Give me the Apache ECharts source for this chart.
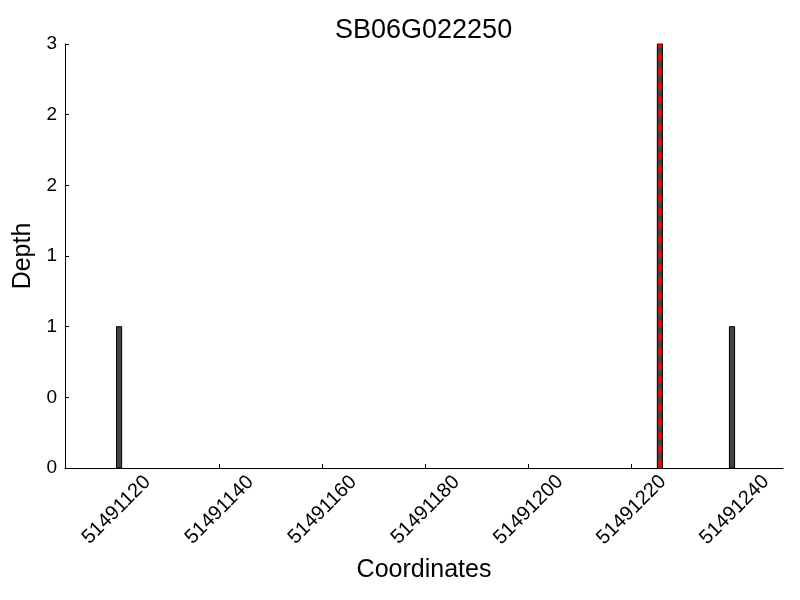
<!DOCTYPE html>
<html><head><meta charset="utf-8">
<script src="https://cdn.jsdelivr.net/npm/echarts@6/dist/echarts.min.js"></script>
<style>html,body{margin:0;padding:0;background:#fff}#c{width:800px;height:600px}</style>
</head><body><div id="c"></div>
<script>
// Data
const positions = [51491120, 51491225, 51491239];
const depths = [1, 3, 1];
const highlightPos = 51491225.5;
const xTickValues = [51491120, 51491140, 51491160, 51491180, 51491200, 51491220, 51491240];
const yTickValues = [0, 0.5, 1, 1.5, 2, 2.5, 3];
const yTickLabels = ['0', '0', '1', '1', '2', '2', '3'];
const titleText = 'SB06G022250';

const FONT = 'Liberation Sans, Arial, sans-serif';
const chart = echarts.init(document.getElementById('c'), null, {renderer: 'canvas'});

const barData = positions.map((p, i) => [p, depths[i]]);

chart.setOption({
  animation: false,
  backgroundColor: '#fff',
  title: {
    text: titleText, left: 330, top: 12,
    textStyle: {fontFamily: FONT, fontSize: 27, fontWeight: 'normal', color: '#000'}
  },
  grid: {left: 65, right: 17, top: 44, bottom: 132, outerBoundsMode: 'none', containLabel: false},
  xAxis: {
    type: 'value', min: 51491110, max: 51491249.4,
    name: 'Coordinates', nameLocation: 'middle', nameGap: 90,
    nameTextStyle: {fontFamily: FONT, fontSize: 25, color: '#000'},
    axisLine: {show: true, onZero: false, lineStyle: {color: '#000', width: 1}},
    axisTick: {show: true, inside: true, length: 4, customValues: xTickValues, lineStyle: {color: '#000'}},
    axisLabel: {
      customValues: xTickValues, rotate: 45, align: 'center', verticalAlign: 'middle', margin: 42,
      fontFamily: FONT, fontSize: 20, color: '#000',
      formatter: v => String(Math.round(v))
    },
    splitLine: {show: false}
  },
  yAxis: {
    type: 'value', min: 0, max: 3, interval: 0.5,
    name: 'Depth', nameLocation: 'middle', nameGap: 21,
    nameTextStyle: {fontFamily: FONT, fontSize: 25, color: '#000'},
    axisLine: {show: true, lineStyle: {color: '#000', width: 1}},
    axisTick: {show: true, inside: true, length: 4, lineStyle: {color: '#000'}},
    axisLabel: {
      fontFamily: FONT, fontSize: 19, color: '#000', margin: 8,
      formatter: v => { const i = yTickValues.indexOf(v); return i >= 0 ? yTickLabels[i] : ''; }
    },
    splitLine: {show: false}
  },
  series: [
    {
      type: 'custom',
      data: barData,
      encode: {x: 0, y: 1},
      renderItem: function (params, api) {
        const x0 = api.value(0);
        const y = api.value(1);
        const p0 = api.coord([x0, 0]);
        const p1 = api.coord([x0 + 1, y]);
        return {
          type: 'rect',
          shape: {x: p0[0], y: p1[1], width: p1[0] - p0[0], height: p0[1] - p1[1]},
          style: {fill: '#444444', stroke: '#000', lineWidth: 1}
        };
      },
      z: 2
    },
    {
      type: 'line',
      data: [[highlightPos, 0], [highlightPos, 3]],
      symbol: 'none',
      lineStyle: {color: '#ff0000', width: 3, type: [8, 6]},
      z: 3
    }
  ]
});
</script></body></html>
